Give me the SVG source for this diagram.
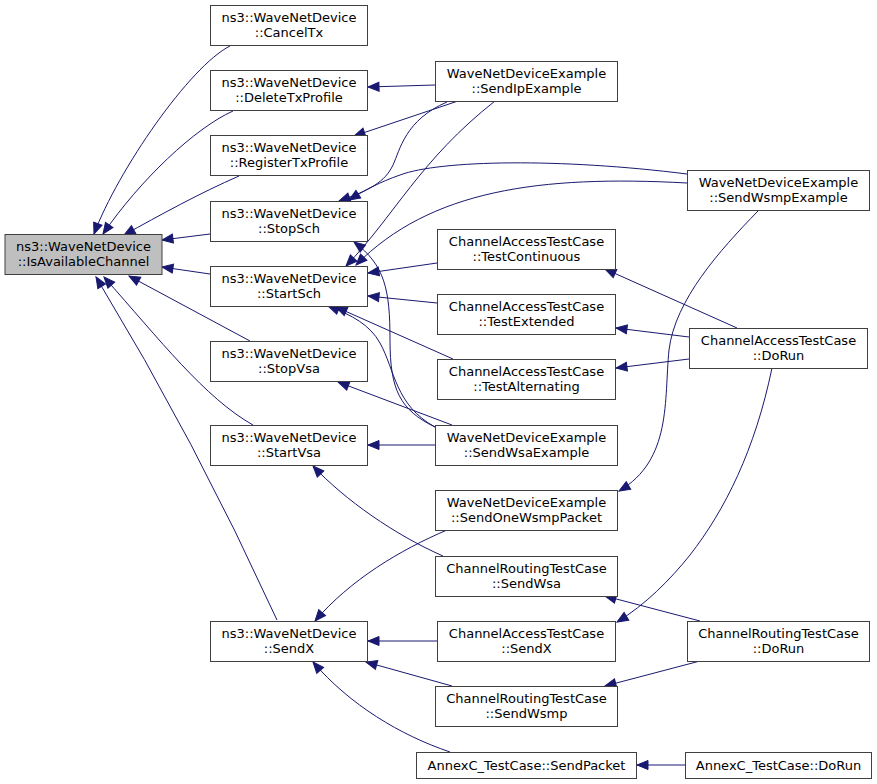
<svg xmlns="http://www.w3.org/2000/svg" width="877" height="784" viewBox="0 0 877 784">
<style>
.n rect{fill:#ffffff;stroke:#404040;stroke-width:1}
.n.h rect{fill:#bfbfbf}
.n text{font-family:"DejaVu Sans","Liberation Sans",sans-serif;font-size:13px;fill:#000000;text-anchor:middle}
.e path{fill:none;stroke:#191970;stroke-width:1;marker-end:url(#ah)}
</style>
<defs>
<marker id="ah" markerUnits="userSpaceOnUse" markerWidth="16" markerHeight="14" viewBox="-2 -7 16 14" refX="11" refY="0" orient="auto">
<path d="M0,-4.5 L11,0 L0,4.5 z" fill="#191970" stroke="#191970" stroke-width="1"/>
</marker>
</defs>
<rect width="877" height="784" fill="#ffffff"/>
<g id="edges" class="e">
<path d="M230,46 C190,66 118,170 94,234"/>
<path d="M233,111 C195,128 140,180 103,234"/>
<path d="M239,176 C200,193 160,215 124,235"/>
<path d="M210,234 L162,240"/>
<path d="M210,274 L162,267"/>
<path d="M250,341 L129,276"/>
<path d="M253,425 C205,398 160,340 104,277"/>
<path d="M277,620 Q195,440 96,277"/>
<path d="M435,85 L368,87"/>
<path d="M458,101 L354,136"/>
<path d="M447,102 C405,120 400,150 393,165 C385,182 370,190 339,201"/>
<path d="M687,174 C560,158 440,160 400,175 C380,182 365,190 349,200"/>
<path d="M495,101 C420,160 395,215 346,266"/>
<path d="M687,183 C540,175 430,190 356,265"/>
<path d="M435,427 C400,410 390,390 390,340 C390,290 385,265 354,242"/>
<path d="M435,427 C395,405 395,370 380,343 C370,325 352,315 328,306"/>
<path d="M453,359 L336,307"/>
<path d="M437,263 L368,273"/>
<path d="M437,303 L368,296"/>
<path d="M452,425 L338,382"/>
<path d="M435,445 L368,445"/>
<path d="M443,556 C395,535 345,500 313,466"/>
<path d="M447,530 C400,550 350,580 315,621"/>
<path d="M437,641 L368,641"/>
<path d="M452,686 L366,662"/>
<path d="M450,752 C400,735 350,705 313,662"/>
<path d="M758,211 C720,250 675,300 669,350 C664,400 672,460 619,491"/>
<path d="M737,328 L605,269"/>
<path d="M689,337 L616,328"/>
<path d="M689,359 L616,368"/>
<path d="M772,368 C755,450 725,510 690,555 C670,580 645,605 617,622"/>
<path d="M700,621 L605,596"/>
<path d="M700,661 L605,686"/>
<path d="M685,765 L637,765"/>
</g>
<g id="n0" class="n h"><rect x="5" y="234.5" width="157" height="40"/><text x="83.5" y="251">ns3::WaveNetDevice</text><text x="83.5" y="266">::IsAvailableChannel</text></g>
<g id="n1" class="n"><rect x="210.5" y="5.5" width="157" height="40"/><text x="289" y="21.5">ns3::WaveNetDevice</text><text x="289" y="36.5">::CancelTx</text></g>
<g id="n2" class="n"><rect x="210.5" y="70.5" width="157" height="40"/><text x="289" y="86.5">ns3::WaveNetDevice</text><text x="289" y="101.5">::DeleteTxProfile</text></g>
<g id="n3" class="n"><rect x="210.5" y="135.5" width="157" height="40"/><text x="289" y="151.5">ns3::WaveNetDevice</text><text x="289" y="166.5">::RegisterTxProfile</text></g>
<g id="n4" class="n"><rect x="210.5" y="201.5" width="157" height="40"/><text x="289" y="217.5">ns3::WaveNetDevice</text><text x="289" y="232.5">::StopSch</text></g>
<g id="n5" class="n"><rect x="210.5" y="266.5" width="157" height="40"/><text x="289" y="282.5">ns3::WaveNetDevice</text><text x="289" y="297.5">::StartSch</text></g>
<g id="n6" class="n"><rect x="210.5" y="341.5" width="157" height="40"/><text x="289" y="357.5">ns3::WaveNetDevice</text><text x="289" y="372.5">::StopVsa</text></g>
<g id="n7" class="n"><rect x="210.5" y="425.5" width="157" height="40"/><text x="289" y="441.5">ns3::WaveNetDevice</text><text x="289" y="456.5">::StartVsa</text></g>
<g id="n8" class="n"><rect x="210.5" y="621.5" width="157" height="40"/><text x="289" y="637.5">ns3::WaveNetDevice</text><text x="289" y="652.5">::SendX</text></g>
<g id="n9" class="n"><rect x="435.5" y="61.5" width="182" height="40"/><text x="526.5" y="77.5">WaveNetDeviceExample</text><text x="526.5" y="92.5">::SendIpExample</text></g>
<g id="n10" class="n"><rect x="437.5" y="229.5" width="178" height="40"/><text x="526.5" y="245.5">ChannelAccessTestCase</text><text x="526.5" y="260.5">::TestContinuous</text></g>
<g id="n11" class="n"><rect x="437.5" y="294.5" width="178" height="40"/><text x="526.5" y="310.5">ChannelAccessTestCase</text><text x="526.5" y="325.5">::TestExtended</text></g>
<g id="n12" class="n"><rect x="437.5" y="359.5" width="178" height="40"/><text x="526.5" y="375.5">ChannelAccessTestCase</text><text x="526.5" y="390.5">::TestAlternating</text></g>
<g id="n13" class="n"><rect x="435.5" y="425.5" width="182" height="40"/><text x="526.5" y="441.5">WaveNetDeviceExample</text><text x="526.5" y="456.5">::SendWsaExample</text></g>
<g id="n14" class="n"><rect x="435.5" y="490.5" width="182" height="40"/><text x="526.5" y="506.5">WaveNetDeviceExample</text><text x="526.5" y="521.5">::SendOneWsmpPacket</text></g>
<g id="n15" class="n"><rect x="435.5" y="556.5" width="182" height="40"/><text x="526.5" y="572.5">ChannelRoutingTestCase</text><text x="526.5" y="587.5">::SendWsa</text></g>
<g id="n16" class="n"><rect x="437.5" y="621.5" width="178" height="40"/><text x="526.5" y="637.5">ChannelAccessTestCase</text><text x="526.5" y="652.5">::SendX</text></g>
<g id="n17" class="n"><rect x="435.5" y="686.5" width="182" height="40"/><text x="526.5" y="702.5">ChannelRoutingTestCase</text><text x="526.5" y="717.5">::SendWsmp</text></g>
<g id="n18" class="n"><rect x="416.5" y="752.5" width="220" height="26"/><text x="526.5" y="769.5">AnnexC_TestCase::SendPacket</text></g>
<g id="n19" class="n"><rect x="687.5" y="170.5" width="182" height="40"/><text x="778.5" y="186.5">WaveNetDeviceExample</text><text x="778.5" y="201.5">::SendWsmpExample</text></g>
<g id="n20" class="n"><rect x="689.5" y="328.5" width="178" height="40"/><text x="778.5" y="344.5">ChannelAccessTestCase</text><text x="778.5" y="359.5">::DoRun</text></g>
<g id="n21" class="n"><rect x="687.5" y="621.5" width="182" height="40"/><text x="778.5" y="637.5">ChannelRoutingTestCase</text><text x="778.5" y="652.5">::DoRun</text></g>
<g id="n22" class="n"><rect x="685.5" y="752.5" width="186" height="26"/><text x="778.5" y="769.5">AnnexC_TestCase::DoRun</text></g>
</svg>
